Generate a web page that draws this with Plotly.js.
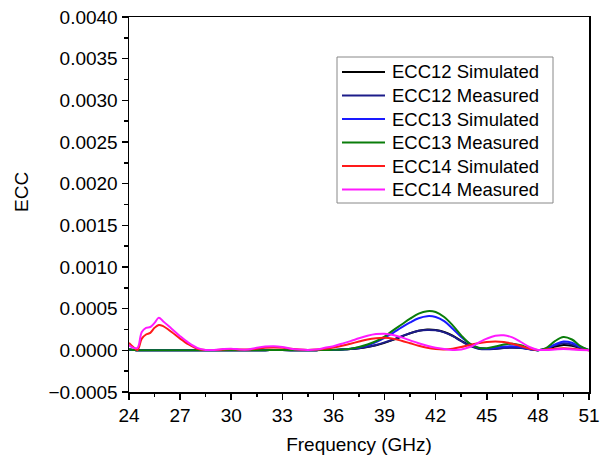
<!DOCTYPE html>
<html>
<head>
<meta charset="utf-8">
<script src="https://cdn.plot.ly/plotly-3.0.1.min.js"></script>
<style>html,body{margin:0;padding:0;background:#fff;}#chart{width:602px;height:460px;}</style>
</head>
<body>
<div id="chart"></div>
<script>
var freq = [24, 24.25, 24.5, 24.75, 25, 25.25, 25.5, 25.75, 26, 26.5, 27, 27.5, 28, 28.5, 29, 29.5, 30, 30.5, 31, 31.5, 32, 32.5, 33, 33.5, 34, 34.5, 35, 35.5, 36, 36.5, 37, 37.5, 38, 38.5, 39, 39.5, 40, 40.5, 41, 41.5, 42, 42.5, 43, 43.5, 44, 44.5, 45, 45.5, 46, 46.5, 47, 47.5, 48, 48.5, 49, 49.5, 50, 50.5, 51];

var ecc12Sim = [0.00001, 0.000005, 0, 0, 0, 0, 0, 0, 0, 0, 0, 0, 0, 0, 0, 0, 0, 0, 0, 0, 0.000002, 0.000003, 0.000003, 0.000002, 0, 0, 0.000002, 0.000004, 0.000005, 0.00001, 0.000015, 0.000025, 0.00004, 0.00006, 0.00009, 0.000125, 0.000165, 0.000205, 0.000235, 0.00025, 0.000245, 0.00022, 0.000175, 0.000115, 0.00006, 0.000025, 0.000015, 0.00002, 0.00003, 0.000035, 0.00003, 0.000015, 0.000002, 0.000015, 0.000045, 0.000065, 0.000055, 0.000025, 0.000002];
var ecc12Meas = [0.00001, 0.000005, 0, 0, 0, 0, 0, 0, 0, 0, 0, 0, 0, 0, 0, 0, 0, 0, 0, 0, 0.000002, 0.000003, 0.000003, 0.000002, 0, 0, 0.000002, 0.000004, 0.000005, 0.00001, 0.000015, 0.000025, 0.000042, 0.000065, 0.000095, 0.00013, 0.00017, 0.000205, 0.000235, 0.000245, 0.00024, 0.000215, 0.00017, 0.00011, 0.000055, 0.00002, 0.000012, 0.000018, 0.000028, 0.000032, 0.000028, 0.000014, 0.000002, 0.00002, 0.00006, 0.000085, 0.00007, 0.00003, 0.000002];
var ecc13Sim = [0.00001, 0.000005, 0, 0, 0, 0, 0, 0, 0, 0, 0, 0, 0, 0, 0, 0, 0, 0, 0, 0, 0.000002, 0.000003, 0.000003, 0.000002, 0, 0, 0.000002, 0.000004, 0.000005, 0.00001, 0.00002, 0.000035, 0.00006, 0.0001, 0.00015, 0.00021, 0.000275, 0.000335, 0.000385, 0.00041, 0.0004, 0.00035, 0.00026, 0.00016, 0.00008, 0.00003, 0.00002, 0.00003, 0.000045, 0.00005, 0.00004, 0.000015, 0.000002, 0.00002, 0.00007, 0.000105, 0.00009, 0.00004, 0.000002];
var ecc13Meas = [0.00001, 0.000005, 0, 0, 0, 0, 0, 0, 0, 0, 0, 0, 0, 0, 0, 0, 0, 0, 0, 0, 0.000002, 0.000003, 0.000003, 0.000002, 0, 0, 0.000002, 0.000004, 0.000006, 0.00001, 0.00002, 0.00004, 0.00007, 0.00011, 0.000165, 0.00024, 0.00031, 0.00038, 0.00044, 0.00047, 0.00046, 0.0004, 0.0003, 0.00018, 0.00008, 0.00003, 0.000025, 0.000045, 0.00007, 0.00008, 0.00006, 0.000025, 0.000002, 0.00003, 0.00011, 0.00016, 0.00013, 0.00005, 0.000003];
var ecc14Sim = [0.00009, 0.00004, 0.000005, 0.00014, 0.00019, 0.00021, 0.00027, 0.000305, 0.00029, 0.00022, 0.00014, 0.00007, 0.00002, 0.000005, 0.000005, 0.00001, 0.000015, 0.00001, 0.00001, 0.00002, 0.00003, 0.000035, 0.00003, 0.00002, 0.00001, 0.000005, 0.00001, 0.00002, 0.000035, 0.000055, 0.00008, 0.000105, 0.00013, 0.000145, 0.00015, 0.00014, 0.000115, 0.000085, 0.000055, 0.00003, 0.000015, 0.00001, 0.00002, 0.00004, 0.000065, 0.000085, 0.0001, 0.000105, 0.0001, 0.00008, 0.00005, 0.00002, 0.000005, 0.00001, 0.00002, 0.000025, 0.00002, 0.00001, 0];
var ecc14Meas = [0.00006, 0.00003, 0.00003, 0.00022, 0.00027, 0.00028, 0.00033, 0.00039, 0.00035, 0.00026, 0.00017, 0.00009, 0.00003, 0.000005, 0.000005, 0.000015, 0.00002, 0.00001, 0.00001, 0.00003, 0.000045, 0.00005, 0.00004, 0.00002, 0.00001, 0.000005, 0.00001, 0.00003, 0.00005, 0.00008, 0.00011, 0.000145, 0.000175, 0.000195, 0.0002, 0.000185, 0.000155, 0.00012, 0.000085, 0.000055, 0.00003, 0.000015, 0.000005, 0.00001, 0.00004, 0.00009, 0.00014, 0.000175, 0.00018, 0.000155, 0.0001, 0.00004, 0.000005, 0.000005, 0.00001, 0.000015, 0.00001, 0.000005, 0];

var seriesNames = ["ECC12 Simulated", "ECC12 Measured", "ECC13 Simulated", "ECC13 Measured", "ECC14 Simulated", "ECC14 Measured"];
var seriesColors = ["#000000", "#1c1c8a", "#1a1aff", "#0a7d0a", "#ff1a1a", "#ff1aff"];
var seriesValues = [ecc12Sim, ecc12Meas, ecc13Sim, ecc13Meas, ecc14Sim, ecc14Meas];

var traces = seriesValues.map(function (vals, i) {
  return {
    x: freq, y: vals, type: "scatter", mode: "lines", name: seriesNames[i],
    showlegend: false,
    line: {color: seriesColors[i], width: 2, shape: "spline", smoothing: 1}
  };
});

var font = "Arial, 'Liberation Sans', sans-serif";

// Plot-area geometry (pixels) used to place the legend box in paper coordinates
var W = 602, H = 460, mL = 129, mR = 13, mT = 17, mB = 68;
var plotW = W - mL - mR, plotH = H - mT - mB;
function px(x) { return (x - mL) / plotW; }
function py(y) { return (H - mB - y) / plotH; }

var shapes = [{
  type: "rect", xref: "paper", yref: "paper",
  x0: px(337), x1: px(553), y0: py(203), y1: py(57),
  line: {color: "#888", width: 1}, fillcolor: "#fff", layer: "above"
}];
var annotations = [];
seriesNames.forEach(function (name, i) {
  var rowY = 72 + i * 23.5;
  shapes.push({
    type: "line", xref: "paper", yref: "paper",
    x0: px(342), x1: px(385), y0: py(rowY), y1: py(rowY),
    line: {color: seriesColors[i], width: 2}, layer: "above"
  });
  annotations.push({
    xref: "paper", yref: "paper", x: px(390), y: py(rowY),
    xanchor: "left", yanchor: "middle", showarrow: false,
    text: name, font: {family: font, size: 18.5, color: "#000"}
  });
});
annotations.push({
  xref: "paper", yref: "paper", x: px(21.5), y: py(192.5),
  xanchor: "center", yanchor: "middle", showarrow: false, textangle: -90,
  text: "ECC", font: {family: font, size: 19, color: "#000"}
});

var layout = {
  width: W, height: H,
  margin: {l: mL, r: mR, t: mT, b: mB},
  paper_bgcolor: "#fff", plot_bgcolor: "#fff",
  font: {family: font, color: "#000", size: 18},
  showlegend: false,
  shapes: shapes,
  annotations: annotations,
  xaxis: {
    range: [24, 51], tick0: 24, dtick: 3, ticks: "outside", ticklen: 6, tickwidth: 1.5, tickcolor: "#000",
    minor: {dtick: 1.5, ticks: "outside", ticklen: 3.5, tickwidth: 1.5, tickcolor: "#000", showgrid: false},
    showline: true, linecolor: "#000", linewidth: 1.5, mirror: true,
    showgrid: false, zeroline: false,
    tickfont: {family: font, size: 19, color: "#000"},
    title: {text: "Frequency (GHz)", font: {family: font, size: 19, color: "#000"}, standoff: 12}
  },
  yaxis: {
    range: [-0.0005, 0.004], tick0: 0, dtick: 0.0005, tickformat: ".4f",
    ticks: "outside", ticklen: 6, tickwidth: 1.5, tickcolor: "#000",
    minor: {dtick: 0.00025, ticks: "outside", ticklen: 3.5, tickwidth: 1.5, tickcolor: "#000", showgrid: false},
    showline: true, linecolor: "#000", linewidth: 1.5, mirror: true,
    showgrid: false, zeroline: false,
    tickfont: {family: font, size: 19, color: "#000"}
  }
};

Plotly.newPlot("chart", traces, layout, {staticPlot: true, displayModeBar: false});
</script>
</body>
</html>
